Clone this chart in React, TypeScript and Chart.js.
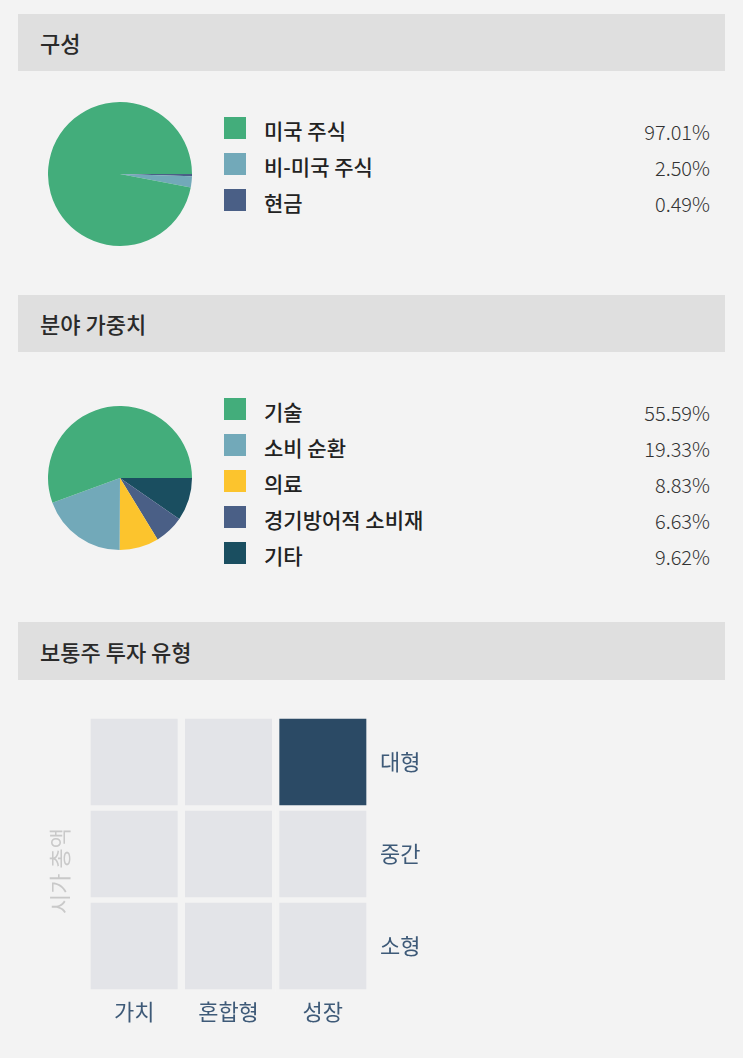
import React, { useEffect, useRef } from "react";
import { Chart, registerables } from "chart.js";

Chart.register(...registerables);

const FONT = "'Noto Sans CJK KR', 'Noto Sans', sans-serif";
Chart.defaults.font.family = FONT;

// ---- Data ----
const compositionTitle = "구성";
const compositionLabels = ["미국 주식", "비-미국 주식", "현금"];
const compositionValues = [97.01, 2.5, 0.49];
const compositionColors = ["#43ad7b", "#72a9b9", "#4a5f86"];

const sectorTitle = "분야 가중치";
const sectorLabels = ["기술", "소비 순환", "의료", "경기방어적 소비재", "기타"];
const sectorValues = [55.59, 19.33, 8.83, 6.63, 9.62];
const sectorColors = ["#43ad7b", "#72a9b9", "#fcc42d", "#4a5f86", "#1a4e60"];

const styleTitle = "보통주 투자 유형";
const styleColumns = ["가치", "혼합형", "성장"];
const styleRows = ["대형", "중간", "소형"]; // top to bottom
const styleAxisTitle = "시가 총액";
// exposure of each cell, rows top→bottom, columns left→right
const styleWeights = [
  [0, 0, 1],
  [0, 0, 0],
  [0, 0, 0],
];
const styleCellUnit = [1, 1, 1];

const PAGE_BG = "#f3f3f3";
const HEADER_BG = "#dfdfdf";
const STYLE_ON = "#2b4a65";
const STYLE_OFF = "#e3e4e8";
const STYLE_TEXT = "#3e5a78";

function PieChart({ labels, values, colors, left, top, size }: any) {
  const ref = useRef<HTMLCanvasElement | null>(null);
  useEffect(() => {
    const rev = (a: any[]) => [...a].reverse();
    const chart = new Chart(ref.current as HTMLCanvasElement, {
      type: "pie",
      data: {
        labels: rev(labels),
        datasets: [
          {
            data: rev(values),
            backgroundColor: rev(colors),
            borderWidth: 0,
            hoverOffset: 0,
          },
        ],
      },
      options: {
        responsive: false,
        animation: false,
        rotation: 90,
        events: [],
        layout: { padding: 0 },
        plugins: { legend: { display: false }, tooltip: { enabled: false } },
      },
    });
    return () => chart.destroy();
  }, []);
  return (
    <canvas
      ref={ref}
      width={size}
      height={size}
      style={{ position: "absolute", left, top, width: size, height: size }}
    />
  );
}

function Legend({ labels, values, colors, top }: any) {
  return (
    <>
      {labels.map((l: string, i: number) => (
        <React.Fragment key={i}>
          <div
            style={{
              position: "absolute",
              left: 224,
              top: top + i * 36,
              width: 22,
              height: 22,
              background: colors[i],
            }}
          />
          <div
            style={{
              position: "absolute",
              left: 264,
              top: top + i * 36 + 2,
              height: 22,
              lineHeight: "22px",
              fontSize: 21,
              fontWeight: 500,
              color: "#222",
              whiteSpace: "nowrap",
            }}
          >
            {l}
          </div>
          <div
            style={{
              position: "absolute",
              right: 743 - 710,
              top: top + i * 36 + 4,
              height: 22,
              lineHeight: "22px",
              fontSize: 20,
              fontWeight: 300,
              color: "#333",
              whiteSpace: "nowrap",
            }}
          >
            {values[i].toFixed(2)}%
          </div>
        </React.Fragment>
      ))}
    </>
  );
}

function Header({ text, top, height }: any) {
  return (
    <div
      style={{
        position: "absolute",
        left: 18,
        top,
        width: 707,
        height,
        background: HEADER_BG,
        boxSizing: "border-box",
        paddingLeft: 22,
        lineHeight: height + "px",
        fontSize: 22,
        fontWeight: 500,
        color: "#2a2a2a",
      }}
    >
      {text}
    </div>
  );
}

const sideTitlePlugin = {
  id: "sideTitle",
  afterDraw(chart: any) {
    const { ctx, chartArea } = chart;
    ctx.save();
    ctx.translate(chartArea.left - 27, (chartArea.top + chartArea.bottom) / 2 + 17);
    ctx.rotate(-Math.PI / 2);
    ctx.font = `22px ${FONT}`;
    ctx.fillStyle = "#c9c9c9";
    ctx.textAlign = "center";
    ctx.textBaseline = "middle";
    ctx.fillText(styleAxisTitle, 0, 0);
    ctx.restore();
  },
};

function StyleBox() {
  const ref = useRef<HTMLCanvasElement | null>(null);
  useEffect(() => {
    const n = styleRows.length;
    // datasets stacked from bottom row to top row
    const datasets = styleRows
      .map((row, r) => ({
        label: row,
        data: styleColumns.map((_, c) => styleCellUnit[c]),
        backgroundColor: styleWeights[r].map((w) => (w > 0 ? STYLE_ON : STYLE_OFF)),
        borderColor: PAGE_BG,
        borderWidth: { top: 3, bottom: 3, left: 4, right: 4 },
        borderSkipped: false as any,
        barPercentage: 1,
        categoryPercentage: 1,
      }))
      .reverse();
    const chart = new Chart(ref.current as HTMLCanvasElement, {
      type: "bar",
      data: { labels: styleColumns, datasets: datasets as any },
      plugins: [sideTitlePlugin],
      options: {
        responsive: false,
        animation: false,
        events: [],
        layout: { padding: { top: 16, left: 87, right: 0, bottom: 0 } },
        plugins: { legend: { display: false }, tooltip: { enabled: false } },
        scales: {
          x: {
            type: "category",
            stacked: true,
            grid: { display: false, drawTicks: false },
            border: { display: false },
            ticks: { color: STYLE_TEXT, font: { size: 22 }, padding: 6 },
            afterFit: (s: any) => {
              s.height = 58;
              s.paddingLeft = 0;
              s.paddingRight = 0;
            },
          },
          y: {
            type: "linear",
            position: "right",
            stacked: true,
            min: 0,
            max: n,
            grid: { display: false, drawTicks: false },
            border: { display: false },
            afterBuildTicks: (s: any) => {
              s.ticks = styleRows.map((_, i) => ({ value: i + 0.5 }));
            },
            ticks: {
              color: STYLE_TEXT,
              font: { size: 22 },
              padding: 10,
              callback: (v: any) => styleRows[n - 1 - Math.floor(Number(v))],
            },
            afterFit: (s: any) => {
              s.width = 90;
              s.paddingTop = 0;
              s.paddingBottom = 0;
            },
          },
        },
      } as any,
    });
    return () => chart.destroy();
  }, []);
  return (
    <canvas
      ref={ref}
      width={460}
      height={350}
      style={{ position: "absolute", left: 0, top: 700, width: 460, height: 350 }}
    />
  );
}

export default function App() {
  return (
    <div
      style={{
        position: "absolute",
        left: 0,
        top: 0,
        width: 743,
        height: 1058,
        background: PAGE_BG,
        overflow: "hidden",
        fontFamily: FONT,
      }}
    >
      <Header text={compositionTitle} top={14} height={57} />
      <PieChart
        labels={compositionLabels}
        values={compositionValues}
        colors={compositionColors}
        left={48}
        top={102}
        size={144}
      />
      <Legend
        labels={compositionLabels}
        values={compositionValues}
        colors={compositionColors}
        top={117}
      />

      <Header text={sectorTitle} top={295} height={57} />
      <PieChart
        labels={sectorLabels}
        values={sectorValues}
        colors={sectorColors}
        left={48}
        top={406}
        size={144}
      />
      <Legend labels={sectorLabels} values={sectorValues} colors={sectorColors} top={398} />

      <Header text={styleTitle} top={622} height={58} />
      <StyleBox />
    </div>
  );
}
